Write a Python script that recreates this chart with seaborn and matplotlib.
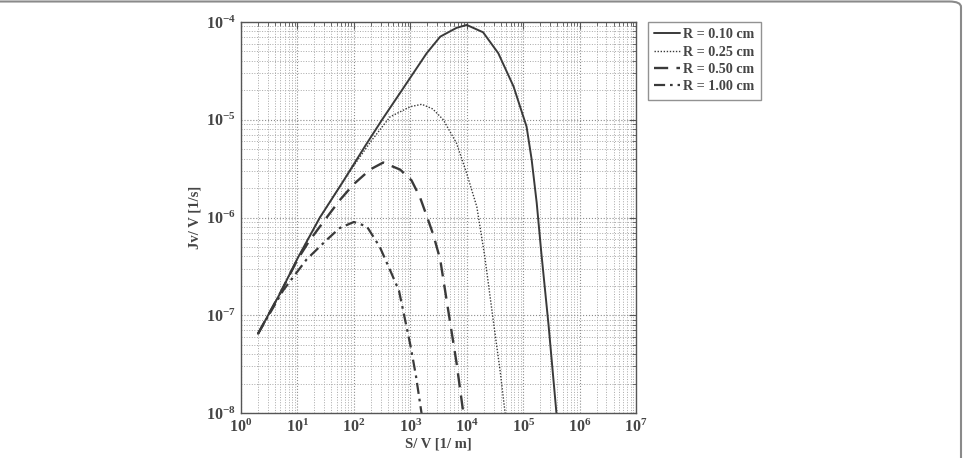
import numpy as np
import pandas as pd
import matplotlib
matplotlib.use("Agg")
import matplotlib.pyplot as plt
import seaborn as sns
from matplotlib.patches import FancyBboxPatch
from matplotlib.ticker import LogLocator, NullFormatter

# ---------------- data ----------------
sv_r010 = [2.0, 5.0, 10, 25, 63, 158, 316, 708, 1950, 3390, 6600, 10000,
           19500, 36300, 67600, 115000, 141000, 174000, 209000, 282000, 389000, 417000]
jv_r010 = [6.46e-8, 1.70e-7, 3.80e-7, 1.0e-6, 2.29e-6, 5.37e-6, 1.0e-5, 2.0e-5, 4.79e-5, 7.08e-5,
           8.71e-5, 9.33e-5, 7.85e-5, 4.79e-5, 2.19e-5, 8.5e-6, 3.98e-6, 1.41e-6, 4.47e-7,
           7.94e-8, 1.0e-8, 6.3e-9]

sv_r025 = [2.0, 5.0, 10, 25, 63, 100, 200, 437, 1000, 1600, 2500, 3850, 6600, 10000,
           15100, 20900, 29500, 38900, 47900, 52500]
jv_r025 = [6.46e-8, 1.70e-7, 3.80e-7, 1.0e-6, 2.29e-6, 3.4e-6, 6.0e-6, 1.07e-5, 1.36e-5,
           1.44e-5, 1.29e-5, 1.0e-5, 5.75e-6, 2.82e-6, 1.29e-6, 3.98e-7, 8.9e-8, 2.75e-8,
           1.0e-8, 5.6e-9]

sv_r050 = [2.0, 5.0, 10, 16, 30, 56, 100, 195, 331, 661, 1050, 1480, 2000, 2570, 3390,
           5010, 6610, 8710, 9550]
jv_r050 = [6.46e-8, 1.70e-7, 3.70e-7, 5.7e-7, 9.3e-7, 1.5e-6, 2.2e-6, 3.1e-6, 3.65e-6,
           3.09e-6, 2.4e-6, 1.62e-6, 1.0e-6, 6.6e-7, 3.72e-7, 8.9e-8, 3.24e-8, 1.0e-8, 6.3e-9]

sv_r100 = [2.0, 5.6, 14.5, 33, 56, 100, 170, 288, 447, 631, 1000, 1260, 1580, 1700]
jv_r100 = [6.46e-8, 1.80e-7, 3.72e-7, 5.9e-7, 7.8e-7, 9.0e-7, 8.1e-7, 5.0e-7, 2.82e-7,
           1.78e-7, 5.0e-8, 2.4e-8, 1.0e-8, 7e-9]

series_labels = ["R = 0.10 cm", "R = 0.25 cm", "R = 0.50 cm", "R = 1.00 cm"]
x_label = "S/ V [1/ m]"
y_label = "Jv/ V [1/s]"

# ---------------- styling ----------------
sns.set_style("white")
plt.rcParams["font.family"] = ["Liberation Serif", "DejaVu Serif"]
plt.rcParams["font.weight"] = "bold"
plt.rcParams["mathtext.fontset"] = "stix"
plt.rcParams["mathtext.default"] = "bf"

W, H = 978, 458
fig = plt.figure(figsize=(W / 100, H / 100), dpi=100)
ax = fig.add_axes([241 / W, 1 - 413 / H, (636 - 241) / W, (413 - 22) / H])

line_col = "#3a3a3a"
styles = [
    dict(linestyle="-", linewidth=1.4),
    dict(linestyle=(0, (1, 1.2)), linewidth=1.0),
    dict(linestyle=(0, (6, 3.5)), linewidth=1.7),
    dict(linestyle=(0, (5, 2.2, 1.2, 2.2)), linewidth=1.6),
]
data_sets = [(sv_r010, jv_r010), (sv_r025, jv_r025), (sv_r050, jv_r050), (sv_r100, jv_r100)]

for (xs, ys), lab, st in zip(data_sets, series_labels, styles):
    df = pd.DataFrame({"sv": xs, "jv": ys})
    sns.lineplot(data=df, x="sv", y="jv", ax=ax, color=line_col, label=lab,
                 estimator=None, sort=False, **st)

ax.set_xscale("log")
ax.set_yscale("log")
ax.set_xlim(1, 1e7)
ax.set_ylim(1e-8, 1e-4)

ax.xaxis.set_major_locator(LogLocator(base=10, numticks=20))
ax.yaxis.set_major_locator(LogLocator(base=10, numticks=20))
ax.xaxis.set_minor_locator(LogLocator(base=10, subs=np.arange(2, 10), numticks=100))
ax.yaxis.set_minor_locator(LogLocator(base=10, subs=np.arange(2, 10), numticks=100))
ax.xaxis.set_minor_formatter(NullFormatter())
ax.yaxis.set_minor_formatter(NullFormatter())

ax.grid(True, which="major", linestyle=":", linewidth=0.8, color="#8c8c8c")
ax.grid(True, which="minor", linestyle=":", linewidth=0.7, color="#a8a8a8")

for s in ax.spines.values():
    s.set_visible(True)
    s.set_color("#555555")
    s.set_linewidth(1.0)

ax.tick_params(which="both", direction="in", top=True, right=True, colors="#555555",
               labelcolor="#454545")
ax.tick_params(which="major", length=5, labelsize=11.5, pad=4)
ax.tick_params(which="minor", length=3)

ax.set_xlabel(x_label, fontsize=10.5, color="#454545", fontweight="bold", labelpad=1)
ax.set_ylabel(y_label, fontsize=10.5, color="#454545", fontweight="bold", labelpad=3)

leg = ax.legend(loc="upper left", bbox_to_anchor=(648 / W, 1 - 22 / H),
                bbox_transform=fig.transFigure, borderaxespad=0, frameon=True,
                fancybox=False, fontsize=10.2, handlelength=1.8, handletextpad=0.25,
                labelspacing=0.3, borderpad=0.45, markerfirst=True)
leg.get_frame().set_edgecolor("#777777")
leg.get_frame().set_linewidth(1.0)
for t in leg.get_texts():
    t.set_color("#454545")
    t.set_fontweight("bold")

# journal frame (rounded border, only top and right visible)
frame = FancyBboxPatch((-20 / W, -20 / H), (961 + 20) / W, (H - 1.5 + 20) / H,
                       boxstyle="round,pad=0,rounding_size=0.012",
                       transform=fig.transFigure, facecolor="none",
                       edgecolor="#8a8a8a", linewidth=1.5, clip_on=False)
fig.patches.append(frame)

fig.savefig("out.png", dpi=100)
